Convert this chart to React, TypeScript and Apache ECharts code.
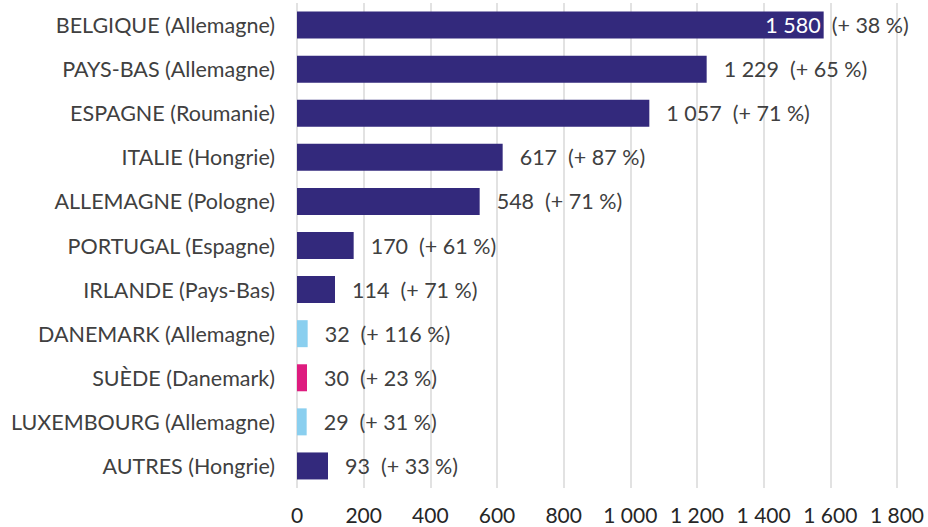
import React, { useEffect, useRef } from "react";
import * as echarts from "echarts";

const categories = [
  "BELGIQUE (Allemagne)",
  "PAYS-BAS (Allemagne)",
  "ESPAGNE (Roumanie)",
  "ITALIE (Hongrie)",
  "ALLEMAGNE (Pologne)",
  "PORTUGAL (Espagne)",
  "IRLANDE (Pays-Bas)",
  "DANEMARK (Allemagne)",
  "SUÈDE (Danemark)",
  "LUXEMBOURG (Allemagne)",
  "AUTRES (Hongrie)",
];
const values = [1580, 1229, 1057, 617, 548, 170, 114, 32, 30, 29, 93];
const changes = [38, 65, 71, 87, 71, 61, 71, 116, 23, 31, 33];
const groups = ["a", "a", "a", "a", "a", "a", "a", "b", "c", "b", "a"];
const xTicks = [0, 200, 400, 600, 800, 1000, 1200, 1400, 1600, 1800];

const groupColors: Record<string, string> = {
  a: "#33297C",
  b: "#8ACFEF",
  c: "#DE1C7F",
};

const fmt = (v: number) => {
  const s = String(Math.round(v));
  return s.replace(/\B(?=(\d{3})+(?!\d))/g, " ");
};

const FONT = "Lato";

export default function App() {
  const ref = useRef<HTMLDivElement>(null);
  useEffect(() => {
    if (!ref.current) return;
    const chart = echarts.init(ref.current, undefined, { renderer: "svg" });
    const mainData = values.map((v, i) => {
      const item: any = {
        value: v,
        itemStyle: { color: groupColors[groups[i]] },
      };
      if (i === 0) {
        item.label = {
          position: "insideRight",
          distance: 3,
          color: "#FFFFFF",
          formatter: () => fmt(v),
        };
      }
      return item;
    });
    const overlayData = values.map((v, i) => ({
      value: v,
      label: { show: i === 0 },
    }));
    chart.setOption({
      animation: false,
      grid: { left: 297, right: 31, top: 3, bottom: 39, containLabel: false },
      xAxis: {
        type: "value",
        min: 0,
        max: 1800,
        interval: 200,
        axisLine: { show: false },
        axisTick: { show: false },
        splitLine: { show: true, lineStyle: { color: "#D9D9D9", width: 1.5 } },
        axisLabel: {
          margin: 16,
          fontFamily: FONT,
          fontSize: 21,
          lineHeight: 21,
          color: "#262626",
          formatter: (v: number) => fmt(v),
          customValues: xTicks,
        },
      },
      yAxis: {
        type: "category",
        data: categories,
        inverse: true,
        axisLine: { show: false },
        axisTick: { show: false },
        axisLabel: {
          margin: 22,
          fontFamily: FONT,
          fontSize: 21.5,
          color: "#404040",
        },
      },
      series: [
        {
          type: "bar",
          data: mainData,
          barWidth: 27,
          barGap: "-100%",
          label: {
            show: true,
            position: "right",
            distance: 17,
            fontFamily: FONT,
            fontSize: 21.5,
            color: "#404040",
            formatter: (p: any) => `${fmt(p.value)}  (+ ${changes[p.dataIndex]} %)`,
          },
          z: 2,
        },
        {
          type: "bar",
          data: overlayData,
          barWidth: 27,
          barGap: "-100%",
          itemStyle: { color: "rgba(0,0,0,0)" },
          label: {
            position: "right",
            distance: 8,
            fontFamily: FONT,
            fontSize: 21.5,
            color: "#404040",
            formatter: (p: any) => `(+ ${changes[p.dataIndex]} %)`,
          },
          silent: true,
          z: 3,
        },
      ],
    });
    return () => chart.dispose();
  }, []);
  return (
    <div
      ref={ref}
      style={{ position: "fixed", left: 0, top: 0, width: 928, height: 527, background: "#fff" }}
    />
  );
}
